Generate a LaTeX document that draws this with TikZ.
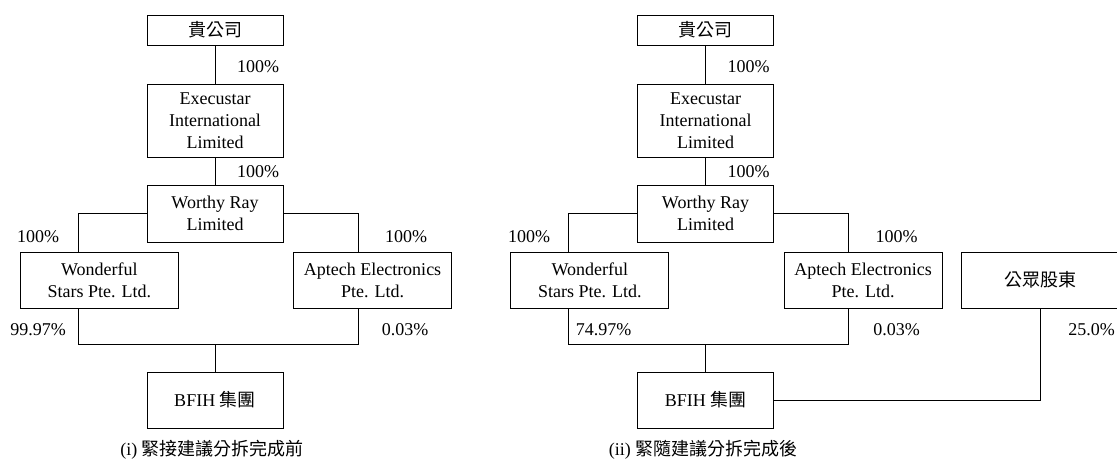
\documentclass[tikz,border=0pt]{standalone}
\usepackage{fontspec}
\setmainfont{Liberation Serif}
\newfontfamily\cjk{Noto Sans CJK TC}
\begin{document}
\begin{tikzpicture}[x=0.75pt,y=-0.75pt,
  every node/.style={font=\fontsize{13.5}{16.5}\selectfont},
  box/.style={draw, line width=0.7pt, inner sep=0pt, align=center},
  narrow/.style={box, minimum width=102pt},
  wide/.style={box, minimum width=118.5pt},
  lbl/.style={inner sep=0pt},
  conn/.style={line width=0.7pt}]
\useasboundingbox (0,0) rectangle (1117,462);

% ---------- left panel ----------
\node[narrow, minimum height=22.5pt] (top) at (215,30) {\cjk{貴公司}};
\node[narrow, minimum height=54.75pt] (exec) at (215,120.5) {Execustar\\International\\Limited};
\node[narrow, minimum height=42.75pt] (worthy) at (215,213.5) {Worthy Ray\\Limited};
\node[wide, minimum height=42pt] (wond) at (99.3,280) {Wonderful\\Stars Pte. Ltd.};
\node[wide, minimum height=42pt] (apt) at (372.5,280) {Aptech Electronics\\Pte. Ltd.};
\node[narrow, minimum height=42pt] (bfih) at (215,400) {BFIH \cjk{集團}};
\coordinate (lx) at (78,344);
\coordinate (rx) at (358,344);

\draw[conn] (top.south) -- (exec.north);
\draw[conn] (exec.south) -- (worthy.north);
\draw[conn] (worthy.west) -| (wond.north -| lx);
\draw[conn] (worthy.east) -| (apt.north -| rx);
\draw[conn] (wond.south -| lx) -- (lx) -- (rx) -- (apt.south -| rx);
\draw[conn] (bfih.north |- lx) -- (bfih.north);

\node[lbl] (p1) at (258,67) {100\%};
\node[lbl] (p2) at (258,172) {100\%};
\node[lbl] (p3) at (38,237) {100\%};
\node[lbl] (p4) at (406,237) {100\%};
\node[lbl] (p5) at (38,330) {99.97\%};
\node[lbl] (p6) at (405,330) {0.03\%};
\node[lbl] (cap1) at (212,450) {(i) \cjk{緊接建議分拆完成前}};

% ---------- right panel ----------
\node[narrow, minimum height=22.5pt] (topb) at (705.5,30) {\cjk{貴公司}};
\node[narrow, minimum height=54.75pt] (execb) at (705.5,120.5) {Execustar\\International\\Limited};
\node[narrow, minimum height=42.75pt] (worthyb) at (705.5,213.5) {Worthy Ray\\Limited};
\node[wide, minimum height=42pt] (wondb) at (589.8,280) {Wonderful\\Stars Pte. Ltd.};
\node[wide, minimum height=42pt] (aptb) at (863,280) {Aptech Electronics\\Pte. Ltd.};
\node[narrow, minimum height=42pt] (bfihb) at (705.5,400) {BFIH \cjk{集團}};
\node[wide, minimum height=42pt] (pub) at (1040,280) {\cjk{公眾股東}};
\coordinate (lxb) at (568.5,344);
\coordinate (rxb) at (848.5,344);

\draw[conn] (topb.south) -- (execb.north);
\draw[conn] (execb.south) -- (worthyb.north);
\draw[conn] (worthyb.west) -| (wondb.north -| lxb);
\draw[conn] (worthyb.east) -| (aptb.north -| rxb);
\draw[conn] (wondb.south -| lxb) -- (lxb) -- (rxb) -- (aptb.south -| rxb);
\draw[conn] (bfihb.north |- lxb) -- (bfihb.north);
\draw[conn] (bfihb.east) -| (pub.south);

\node[lbl] (q1) at (748.5,67) {100\%};
\node[lbl] (q2) at (748.5,172) {100\%};
\node[lbl] (q3) at (529,237) {100\%};
\node[lbl] (q4) at (896.5,237) {100\%};
\node[lbl] (q5) at (603.5,330) {74.97\%};
\node[lbl] (q6) at (896.5,330) {0.03\%};
\node[lbl] (q7) at (1091.5,330) {25.0\%};
\node[lbl] (cap2) at (703,450) {(ii) \cjk{緊隨建議分拆完成後}};
\end{tikzpicture}
\end{document}
